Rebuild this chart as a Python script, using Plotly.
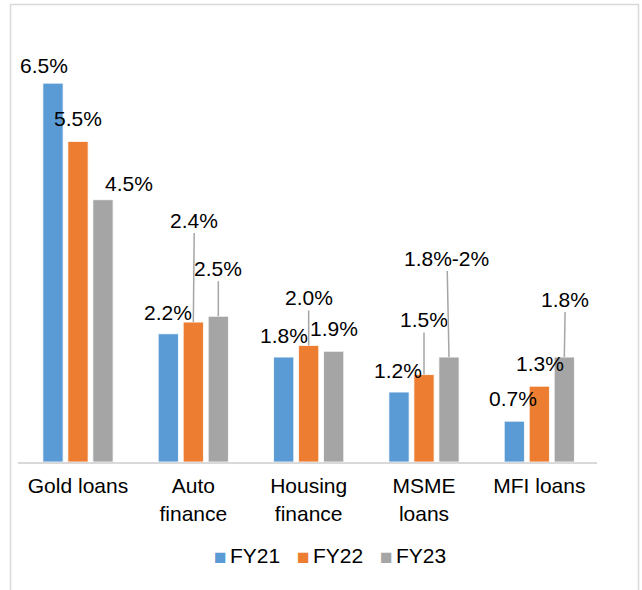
import plotly.graph_objects as go

categories = ["Gold loans", "Auto<br>finance", "Housing<br>finance", "MSME<br>loans", "MFI loans"]
series_names = ["FY21", "FY22", "FY23"]
fy21 = [6.5, 2.2, 1.8, 1.2, 0.7]
fy22 = [5.5, 2.4, 2.0, 1.5, 1.3]
fy23 = [4.5, 2.5, 1.9, 1.8, 1.8]
fy21_labels = ["6.5%", "2.2%", "1.8%", "1.2%", "0.7%"]
fy22_labels = ["5.5%", "2.4%", "2.0%", "1.5%", "1.3%"]
fy23_labels = ["4.5%", "2.5%", "1.9%", "1.8%-2%", "1.8%"]
colors = ["#5B9BD5", "#ED7D31", "#A5A5A5"]

FONT = "Liberation Sans, Arial, sans-serif"
W, H = 642, 590
ML, MR, MT, MB = 18, 45, 54, 128

fig = go.Figure()
values = [fy21, fy22, fy23]
labels = [fy21_labels, fy22_labels, fy23_labels]
for name, vals, col in zip(series_names, values, colors):
    fig.add_trace(go.Bar(name=name, x=categories, y=vals, marker=dict(color=col, line=dict(color="white", width=0.8)),
                         showlegend=False))

bargap = 0.35
slot = (1 - bargap) / 3
offsets = [-slot, 0, slot]

# label placement: (dx, dy, leader line) in pixels relative to bar top
placement = [
    [(-9, -18, False), (0, -21, False), (0, -22, False), (-1, -22, False), (-1, -23, False)],
    [(0, -23, False), (1, -102, True), (0, -48, True), (0, -55, True), (1, -23, False)],
    [(26, -16, False), (0, -48, True), (0, -23, False), (-2, -99, True), (1, -58, True)],
]

annotations = []
for s in range(3):
    for i in range(len(categories)):
        dx, dy, line = placement[s][i]
        xpos = i + offsets[s]
        ypos = values[s][i]
        if line:
            annotations.append(dict(x=xpos, y=ypos, xref="x", yref="y", text=labels[s][i],
                                    showarrow=True, arrowhead=0, arrowwidth=1.5, arrowcolor="#A5A5A5",
                                    ax=dx, ay=dy, axref="pixel", ayref="pixel", standoff=0,
                                    font=dict(family=FONT, size=21, color="#000000")))
        else:
            annotations.append(dict(x=xpos, y=ypos, xref="x", yref="y", text=labels[s][i],
                                    showarrow=False, xshift=dx, yshift=-dy,
                                    font=dict(family=FONT, size=21, color="#000000")))

plot_w = W - ML - MR
plot_h = H - MT - MB

def px_x(p):
    return (p - ML) / plot_w

def px_y(p):
    return (MT + plot_h - p) / plot_h

# legend entries
legend_sq_px = [214, 297, 380]
legend_tx_px = [230, 313, 396]
for name, col, sx, tx in zip(series_names, colors, legend_sq_px, legend_tx_px):
    annotations.append(dict(x=px_x(sx - 2), y=px_y(556), xref="paper", yref="paper",
                            xanchor="left", yanchor="middle", showarrow=False,
                            text="■", font=dict(family=FONT, size=21, color=col)))
    annotations.append(dict(x=px_x(tx - 2), y=px_y(555), xref="paper", yref="paper",
                            xanchor="left", yanchor="middle", showarrow=False,
                            text=name, font=dict(family=FONT, size=21, color="#000000")))

frame = dict(color="#D9D9D9", width=1.5)
shapes = [
    dict(type="line", xref="paper", yref="paper", x0=px_x(10), x1=px_x(639), y0=px_y(4.5), y1=px_y(4.5), line=frame),
    dict(type="line", xref="paper", yref="paper", x0=px_x(10.5), x1=px_x(10.5), y0=px_y(4.5), y1=px_y(592), line=frame),
    dict(type="line", xref="paper", yref="paper", x0=px_x(638.5), x1=px_x(638.5), y0=px_y(4.5), y1=px_y(592), line=frame),
]

fig.update_layout(
    width=W, height=H,
    margin=dict(l=ML, r=MR, t=MT, b=MB, pad=0),
    paper_bgcolor="white", plot_bgcolor="white",
    barmode="group", bargap=bargap, bargroupgap=0.19,
    font=dict(family=FONT, size=21, color="#000000"),
    xaxis=dict(showline=True, linecolor="#D9D9D9", linewidth=2, showgrid=False, ticks="",
               ticklabelstandoff=4,
               tickfont=dict(family=FONT, size=21, color="#000000"), zeroline=False),
    yaxis=dict(range=[0, 7], visible=False, showgrid=False, zeroline=False),
    annotations=annotations,
    shapes=shapes,
)

fig.write_html("out.html", config={"displayModeBar": False},
               post_script="document.body.style.margin='0';document.body.style.overflow='hidden';")
